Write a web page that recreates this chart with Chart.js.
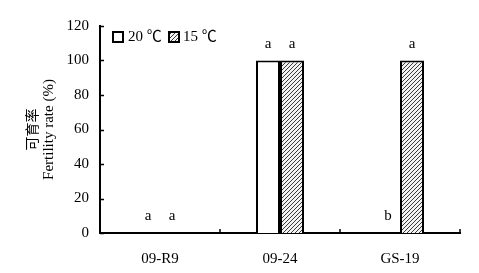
<!DOCTYPE html>
<html><head><meta charset="utf-8">
<script src="https://cdn.jsdelivr.net/npm/chart.js@4/dist/chart.umd.min.js"></script>
<style>html,body{margin:0;padding:0;background:#fff}#wrap{width:479px;height:273px}</style>
</head><body><div id="wrap"><canvas id="c" width="479" height="273"></canvas></div>
<script>
const categories = ['09-R9', '09-24', 'GS-19'];
const seriesNames = ['20 ℃', '15 ℃'];
const values20 = [0, 100, 0];
const values15 = [0, 100, 100];
const letters20 = ['a', 'a', 'b'];
const letters15 = ['a', 'a', 'a'];
const yTicks = [0, 20, 40, 60, 80, 100, 120];
const yTitleCn = '可育率';
const yTitleEn = 'Fertility rate (%)';

const FONT = "'Liberation Serif', 'Times New Roman', 'Noto Sans CJK SC', serif";

function makeHatch() {
  const p = document.createElement('canvas');
  p.width = 4; p.height = 4;
  const g = p.getContext('2d');
  g.fillStyle = '#f2f2f2';
  g.fillRect(0, 0, 4, 4);
  g.strokeStyle = '#3a3a3a';
  g.lineWidth = 1;
  g.beginPath();
  g.moveTo(-1, 5); g.lineTo(5, -1);
  g.moveTo(-1, 1); g.lineTo(1, -1);
  g.moveTo(3, 5); g.lineTo(5, 3);
  g.stroke();
  return document.getElementById('c').getContext('2d').createPattern(p, 'repeat');
}
const hatch = makeHatch();
const letterSets = [letters20, letters15];

const deco = {
  id: 'deco',
  afterDraw(chart) {
    const ctx = chart.ctx;
    const x = chart.scales.x, y = chart.scales.y;
    const area = chart.chartArea;
    ctx.save();
    // inward ticks
    ctx.strokeStyle = '#000';
    ctx.lineWidth = 1.5;
    ctx.beginPath();
    yTicks.forEach(v => {
      const py = Math.round(y.getPixelForValue(v)) + 0.5;
      ctx.moveTo(area.left, py); ctx.lineTo(area.left + 4, py);
    });
    for (let i = 1; i <= categories.length; i++) {
      const px = Math.round(area.left + (area.right - area.left) * i / categories.length);
      ctx.moveTo(px, area.bottom); ctx.lineTo(px, area.bottom - 4);
    }
    ctx.stroke();
    // letters above bars
    ctx.fillStyle = '#000';
    ctx.font = '15px ' + FONT;
    ctx.textAlign = 'center';
    ctx.textBaseline = 'alphabetic';
    chart.data.datasets.forEach((ds, di) => {
      const meta = chart.getDatasetMeta(di);
      meta.data.forEach((bar, i) => {
        ctx.fillText(letterSets[di][i], bar.x, Math.min(bar.y, area.bottom) - 13);
      });
    });
    // legend
    ctx.lineWidth = 2;
    ctx.fillStyle = '#fff';
    ctx.fillRect(113, 32, 10, 10);
    ctx.strokeRect(113, 32, 10, 10);
    ctx.fillStyle = hatch;
    ctx.fillRect(169, 32, 10, 10);
    ctx.strokeRect(169, 32, 10, 10);
    ctx.fillStyle = '#000';
    ctx.textAlign = 'left';
    ctx.textBaseline = 'middle';
    ctx.fillText(seriesNames[0], 128, 37);
    ctx.fillText(seriesNames[1], 183, 37);
    // y title
    const cy = (area.top + area.bottom) / 2;
    ctx.translate(0, cy);
    ctx.rotate(-Math.PI / 2);
    ctx.textAlign = 'center';
    ctx.font = "14px 'Noto Sans CJK SC', serif";
    ctx.fillText(yTitleCn, 0, 32);
    ctx.font = '15px ' + FONT;
    ctx.fillText(yTitleEn, 0, 49);
    ctx.restore();
  }
};

new Chart(document.getElementById('c'), {
  type: 'bar',
  data: {
    labels: categories,
    datasets: [
      { label: seriesNames[0], data: values20, backgroundColor: '#fff', borderColor: '#000', borderWidth: 2 },
      { label: seriesNames[1], data: values15, backgroundColor: hatch, borderColor: '#000', borderWidth: 2 }
    ]
  },
  options: {
    responsive: false,
    animation: false,
    devicePixelRatio: 1,
    layout: { padding: { left: 0, right: 19, top: 26, bottom: 0 } },
    datasets: { bar: { categoryPercentage: 0.4, barPercentage: 1 } },
    plugins: { legend: { display: false }, tooltip: { enabled: false } },
    scales: {
      x: {
        grid: { display: false, drawTicks: false },
        border: { display: true, color: '#000', width: 2 },
        ticks: { color: '#000', padding: 17, font: { family: FONT, size: 15 } },
        afterFit(s) { s.height = 40; }
      },
      y: {
        min: 0, max: 120,
        grid: { display: false, drawTicks: false },
        border: { display: true, color: '#000', width: 2 },
        ticks: { stepSize: 20, color: '#000', padding: 11, font: { family: FONT, size: 15 } },
        afterFit(s) { s.width = 100; }
      }
    }
  },
  plugins: [deco]
});
</script>
</body></html>
